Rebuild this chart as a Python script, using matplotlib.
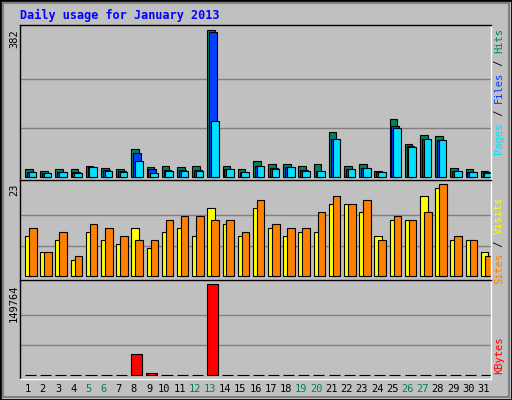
import matplotlib.pyplot as plt
import matplotlib.patches as mpatches
import numpy as np

days = np.arange(1, 32)
hits = [19, 16, 19, 19, 29, 22, 19, 71, 24, 29, 24, 29, 382, 27, 19, 40, 32, 32, 29, 32, 115, 29, 32, 16, 149, 84, 108, 105, 22, 19, 14]
files = [12, 10, 12, 12, 24, 17, 14, 61, 19, 17, 17, 17, 375, 19, 12, 27, 22, 24, 17, 15, 99, 19, 22, 12, 131, 80, 97, 95, 14, 12, 12]
pages = [11, 9, 11, 9, 24, 14, 11, 40, 9, 16, 16, 16, 144, 19, 11, 27, 19, 24, 16, 14, 99, 19, 22, 11, 126, 76, 97, 95, 14, 12, 9]
sites = [10, 6, 9, 4, 11, 9, 8, 12, 7, 11, 12, 10, 17, 13, 10, 17, 12, 10, 11, 11, 18, 18, 16, 10, 14, 14, 20, 22, 9, 9, 6]
visits = [12, 6, 11, 5, 13, 12, 10, 9, 9, 14, 15, 15, 14, 14, 11, 19, 13, 12, 12, 16, 20, 18, 19, 9, 15, 14, 16, 23, 10, 9, 5]
kbytes = [600, 600, 600, 600, 600, 600, 600, 35100, 3300, 600, 600, 600, 149764, 600, 600, 600, 600, 600, 600, 600,
          600, 600, 600, 600, 600, 600, 600, 600, 600, 600, 600]
weekends = [5, 6, 12, 13, 19, 20, 26, 27]

W, H = 512, 400
fig = plt.figure(figsize=(W / 100, H / 100), dpi=100)
fig.patch.set_facecolor('#c0c0c0')
mono = 'DejaVu Sans Mono'

# outer border
fig.add_artist(mpatches.Rectangle((0, 0), 1, 1, transform=fig.transFigure, fill=False, ec='black', lw=2))
fig.add_artist(mpatches.Rectangle((3 / W, 3 / H), 1 - 6 / W, 1 - 6 / H, transform=fig.transFigure,
                                  fill=False, ec='#808080', lw=1.5))


def panel(y0, y1):
    # pixel coordinates from top
    ax = fig.add_axes([20 / W, 1 - y1 / H, 471 / W, (y1 - y0) / H])
    ax.set_facecolor('#c0c0c0')
    ax.set_xlim(0.5, 31.5)
    ax.set_xticks([])
    ax.set_yticks([])
    for s in ax.spines.values():
        s.set_color('black')
        s.set_linewidth(1.0)
    for s in ('bottom', 'right'):
        ax.spines[s].set_color('white')
    return ax


def set_y(ax, y0, y1, ybase, ytop, vmax):
    scale = vmax / (ybase - ytop)
    ax.set_ylim(-(y1 - ybase) * scale, vmax + (ytop - y0) * scale)
    for f in (1 / 3, 2 / 3):
        ax.axhline(vmax * f, color='#808080', lw=1, zorder=0)


kw = dict(align='edge', edgecolor='black', linewidth=0.8)

ax1 = panel(25, 180)
set_y(ax1, 25, 180, 176.7, 29.7, 382)
ax1.bar(days - 0.17, hits, width=0.5, color='#00805c', **kw)
ax1.bar(days - 0.05, files, width=0.5, color='#0040ff', **kw)
ax1.bar(days + 0.07, pages, width=0.5, color='#00e0ff', **kw)

ax2 = panel(180, 280)
set_y(ax2, 180, 280, 276.3, 184.3, 23)
ax2.bar(days - 0.17, sites, width=0.5, color='#ffff00', **kw)
ax2.bar(days + 0.09, visits, width=0.5, color='#ff8000', **kw)

ax3 = panel(280, 379)
set_y(ax3, 280, 379, 375.3, 284.3, 149764)
ax3.bar(days - 0.19, kbytes, width=0.73, color='#ff0000', **kw)

for d in days:
    fig.text((20 + (d - 0.5) * 471 / 31) / W, 1 - 389 / H, str(d), ha='center', va='center',
             fontsize=7.5, family=mono, color='#00805c' if d in weekends else 'black')

fig.text(20 / W, 1 - 15 / H, 'Daily usage for January 2013', ha='left', va='center',
         fontsize=8.5, family=mono, weight='bold', color='#0000ff')

fig.text(14 / W, 1 - 29 / H, '382', rotation=90, ha='center', va='top', fontsize=7.5, family=mono)
fig.text(14 / W, 1 - 184 / H, '23', rotation=90, ha='center', va='top', fontsize=7.5, family=mono)
fig.text(14 / W, 1 - 284 / H, '149764', rotation=90, ha='center', va='top', fontsize=7.5, family=mono)


def side(parts, ytop):
    # parts listed top to bottom, rotated text reading upward
    y = ytop
    for txt, col in parts:
        fig.text(499 / W, 1 - y / H, txt, rotation=90, ha='center', va='top',
                 fontsize=7.5, family=mono, color=col)
        y += len(txt) * 6.3


side([('Hits', '#00805c'), (' / ', '#000000'), ('Files', '#0040ff'), (' / ', '#000000'), ('Pages', '#00e0ff')], 28)
side([('Visits', '#ffff00'), (' / ', '#000000'), ('Sites', '#ff8000')], 196)
side([('KBytes', '#ff0000')], 337)

fig.savefig('out.png', dpi=100, facecolor=fig.get_facecolor())
